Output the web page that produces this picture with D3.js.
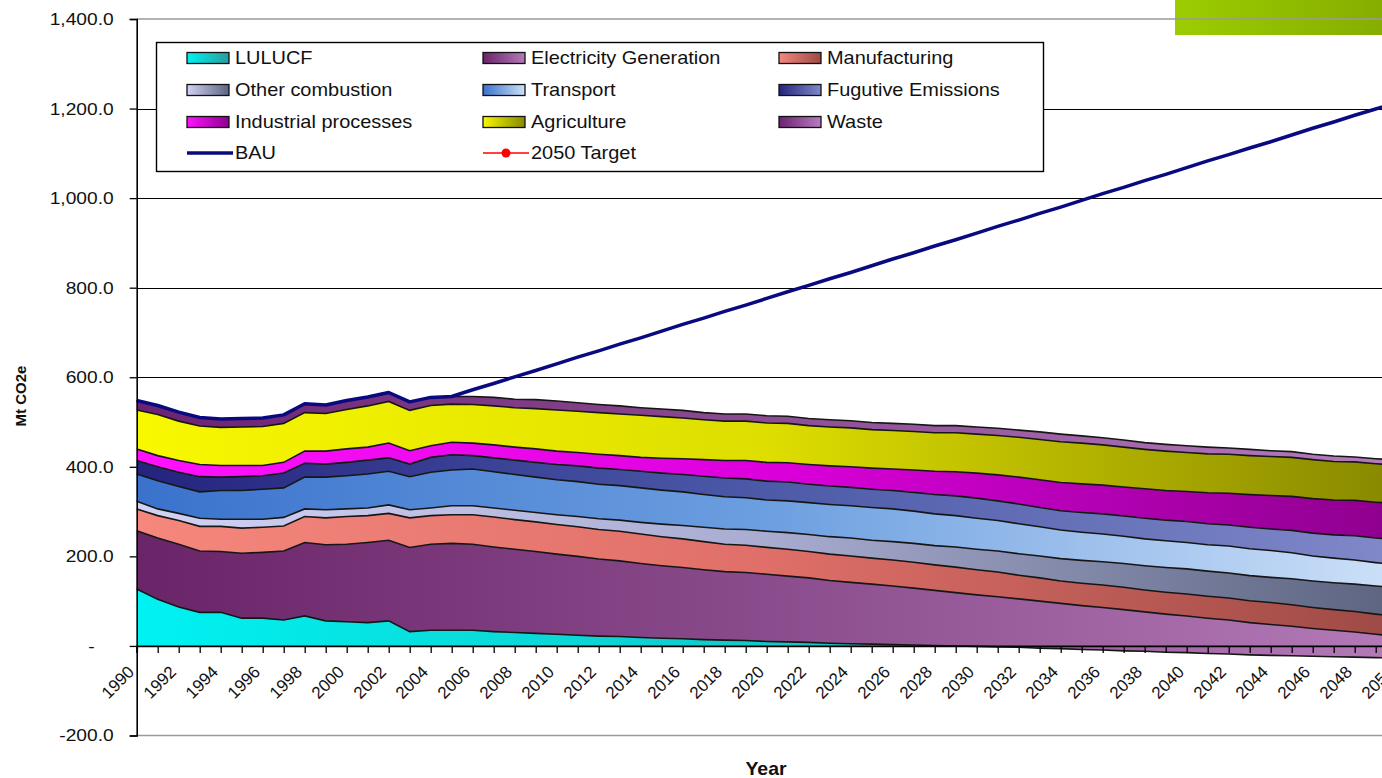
<!DOCTYPE html>
<html>
<head>
<meta charset="UTF-8">
<title>Emissions projection</title>
<script src="https://cdn.jsdelivr.net/npm/d3@7"></script>
<style>
body { margin: 0; background: #fff; }
svg { display: block; font-family: "Liberation Sans", Arial, sans-serif; }
</style>
</head>
<body>
<svg id="chart" width="1382" height="778"></svg>
<script>
// years on the x axis
var years = d3.range(1990, 2051);

// Mt CO2e per sector, 1990..2050
var lulucf = [127,104,87,75,75,62,62,58,67,56,54,52,56,32,35,35,
  35,32,30,28,26, 24,22,21,19,17, 16,14,13,12,10, 9,8,6,5,4, 3,2,1,0,-1,
  -2,-3,-5,-6,-8, -9,-11,-12,-14,-15, -17,-18,-20,-21,-22, -23,-24,-25,-26,-27];
var electricity = [130,137,140,137,136,145,147,154,164,170,173,179,180,188,192,194,
  192,189,186,183,179, 176,172,169,165,162, 159,156,153,152,150, 147,144,140,137,134,
  131,127,123,119,115, 112,108,105,101,98, 95,92,88,85,82, 79,76,72,69,66, 62,59,56,52,49];
var manufacturing = [49,50,53,55,56,56,56,56,58,60,62,60,60,66,64,64,
  66,67,66,66,66, 66,66,66,66,65, 64,63,61,61,60, 60,59,59,59,58,
  58,58,57,57,56, 55,53,52,50,50, 50,50,49,49,49, 49,49,49,49,48, 47,46,46,45,44];
var otherComb = [17,15,16,18,16,20,18,19,17,18,17,17,19,18,17,20,
  20,20,21,21,22, 23,24,25,26,28, 30,32,34,35,36, 37,38,39,40,40,
  41,42,43,45,46, 47,48,49,50,51, 52,53,54,55,56, 56,56,56,56,58, 59,60,61,63,64];
var transport = [61,63,60,59,64,64,67,66,71,73,74,76,75,74,80,80,
  82,81,80,79,78, 78,77,77,77,76, 75,73,72,71,70, 71,71,72,72,73,
  73,72,71,70,69, 68,67,65,64,63, 62,61,60,60,59, 59,60,60,60,58, 56,55,54,52,51];
var fugitive = [30,31,32,34,30,31,30,33,31,29,30,31,30,28,33,34,
  30,31,32,33,34, 35,36,36,37,38, 39,41,42,42,42, 42,41,41,41,41,
  41,42,43,44,45, 44,44,43,43,44, 45,45,46,46,47, 47,47,48,48,50, 51,52,54,55,56];
var industrial = [26,25,26,27,26,25,23,24,27,29,30,29,33,30,26,28,
  28,29,29,30,30, 30,31,31,31,33, 35,37,39,41,42, 43,44,45,46,47,
  48,50,52,54,56, 58,60,62,63,64, 64,65,66,66,67, 69,71,73,75,76, 77,78,79,80,81];
var agriculture = [87,92,88,86,85,86,87,87,86,84,88,92,93,90,90,85,
  86,87,88,90,92, 92,93,93,94,93, 91,89,88,88,88, 88,87,87,87,86,
  86,86,86,87,87, 88,89,90,91,91, 90,89,88,88,87, 87,87,87,87,87, 87,86,86,86,86];
var waste = [21,20,20,19,19,19,19,19,20,19,20,20,20,19,18,17,
  18,19,19,20,20, 19,18,18,17,17, 17,16,16,16,16, 16,16,16,16,16,
  16,16,16,16,16, 16,16,17,17,16, 16,16,15,15,15, 15,14,14,13,13, 12,12,11,11,11];
var bau = [548,537,522,510,507,508,509,516,541,538,548,556,566,545,555,557,
  572,586,601,615,630, 645,659,674,688,703, 718,732,747,761,776, 791,805,820,834,849,
  864,878,893,907,922, 937,951,966,980,995, 1010,1024,1039,1053,1068,
  1083,1097,1112,1126,1141, 1156,1170,1185,1199,1214];

var yTicks = [-200, 0, 200, 400, 600, 800, 1000, 1200, 1400];
var xLabelYears = d3.range(1990, 2051, 2);

var seriesKeys = ["lulucf","electricity","manufacturing","otherComb","transport","fugitive","industrial","agriculture","waste"];
var seriesLabels = ["LULUCF","Electricity Generation","Manufacturing","Other combustion","Transport","Fugutive Emissions","Industrial processes","Agriculture","Waste"];
var seriesValues = [lulucf, electricity, manufacturing, otherComb, transport, fugitive, industrial, agriculture, waste];

// left -> right colour ramp of each band
var ramps = {
  lulucf:        ["#00f2f2", "#12c9c9", "#2a9c9c"],
  electricity:   ["#6a2468", "#8a4c8c", "#b47ab8"],
  manufacturing: ["#f5877d", "#df6f68", "#9e4a46"],
  otherComb:     ["#d2d2f5", "#a8acd0", "#5c6480"],
  transport:     ["#3a72cc", "#6c9fe0", "#cde0f8"],
  fugitive:      ["#24247e", "#4c5aa8", "#8189c9"],
  industrial:    ["#ff12ff", "#dc00dc", "#8e008e"],
  agriculture:   ["#f8f800", "#dede00", "#888800"],
  waste:         ["#6c2272", "#8c4c92", "#b67cbe"]
};

var svg = d3.select("#chart");
var x = d3.scaleLinear().domain([1990, 2050]).range([136.7, 1396.7]);
var y = d3.scaleLinear().domain([-200, 1400]).range([735.5, 19]);

var defs = svg.append("defs");
seriesKeys.forEach(function(k) {
  var g = defs.append("linearGradient").attr("id", "g-" + k)
    .attr("gradientUnits", "userSpaceOnUse")
    .attr("x1", x(1990)).attr("x2", x(2050)).attr("y1", 0).attr("y2", 0);
  ramps[k].forEach(function(c, i) {
    g.append("stop").attr("offset", (i * 50) + "%").attr("stop-color", c);
  });
  var lg = defs.append("linearGradient").attr("id", "lg-" + k)
    .attr("x1", 0).attr("x2", 1).attr("y1", 0).attr("y2", 0);
  lg.append("stop").attr("offset", "0%").attr("stop-color", ramps[k][0]);
  lg.append("stop").attr("offset", "100%").attr("stop-color", ramps[k][2]);
});
var gg = defs.append("linearGradient").attr("id", "green").attr("x1", 0).attr("x2", 1);
gg.append("stop").attr("offset", "0%").attr("stop-color", "#9ccd00");
gg.append("stop").attr("offset", "100%").attr("stop-color", "#86ad00");

// green corner block
svg.append("rect").attr("x", 1175).attr("y", 0).attr("width", 207).attr("height", 35)
  .attr("fill", "url(#green)");

// gridlines
svg.append("g").selectAll("line")
  .data(yTicks.filter(function(v) { return v > 0 && v < 1400; }))
  .enter().append("line")
  .attr("x1", x(1990)).attr("x2", x(2050))
  .attr("y1", function(d) { return Math.round(y(d)) + 0.5; })
  .attr("y2", function(d) { return Math.round(y(d)) + 0.5; })
  .attr("stroke", "#000").attr("stroke-width", 1.2);

// plot border top / bottom
[1400, -200].forEach(function(v) {
  svg.append("line").attr("x1", x(1990)).attr("x2", x(2050))
    .attr("y1", y(v)).attr("y2", y(v))
    .attr("stroke", "#9a9a9a").attr("stroke-width", 1.6);
});

// stacked areas
var table = years.map(function(yr, i) {
  var row = { year: yr };
  seriesKeys.forEach(function(k, j) { row[k] = seriesValues[j][i]; });
  return row;
});
var stacked = d3.stack().keys(seriesKeys).offset(d3.stackOffsetNone)(table);

var area = d3.area()
  .x(function(d) { return x(d.data.year); })
  .y0(function(d) { return y(d[0]); })
  .y1(function(d) { return y(d[1]); });
var edge = d3.line()
  .x(function(d) { return x(d.data.year); })
  .y(function(d) { return y(d[1]); });

var plot = svg.append("g");
plot.selectAll("path.band").data(stacked).enter().append("path")
  .attr("class", "band")
  .attr("d", area)
  .attr("fill", function(d) { return "url(#g-" + d.key + ")"; });
plot.selectAll("path.edge").data(stacked).enter().append("path")
  .attr("class", "edge")
  .attr("d", edge)
  .attr("fill", "none").attr("stroke", "#161616").attr("stroke-width", 1.6);

// BAU line
var bauLine = d3.line().x(function(d, i) { return x(years[i]); }).y(function(d) { return y(d); });
svg.append("path").attr("d", bauLine(bau))
  .attr("fill", "none").attr("stroke", "#0a0a80").attr("stroke-width", 3.5)
  .attr("stroke-linejoin", "round");

// y axis
var fmt = d3.format(",.1f");
var yAxis = svg.append("g").attr("transform", "translate(" + x(1990) + ",0)")
  .call(d3.axisLeft(y).tickValues(yTicks).tickSize(7).tickPadding(18)
    .tickFormat(function(v) { return v === 0 ? "-" : fmt(v).replace("\u2212", "-"); }));
yAxis.select(".domain").attr("stroke", "#000").attr("stroke-width", 1.6);
yAxis.selectAll(".tick line").attr("stroke", "#000").attr("stroke-width", 1.3);
yAxis.selectAll(".tick text").attr("font-size", 17).attr("fill", "#111")
  .attr("font-family", "'Liberation Sans', Arial, sans-serif")
  .attr("x", 0)
  .attr("transform", function(d) { return "translate(" + (d === 0 ? -42 : -23) + ",0) scale(1.13,1)"; });

// x axis on the zero line
var xAxis = svg.append("g").attr("transform", "translate(0," + y(0) + ")")
  .call(d3.axisBottom(x).tickValues(years).tickSize(7)
    .tickFormat(function(d) { return xLabelYears.indexOf(d) >= 0 ? d : ""; }));
xAxis.select(".domain").attr("stroke", "#000").attr("stroke-width", 1.8);
xAxis.selectAll(".tick line").attr("stroke", "#000").attr("stroke-width", 1.3);
xAxis.selectAll(".tick text")
  .attr("font-size", 17).attr("fill", "#111")
  .attr("font-family", "'Liberation Sans', Arial, sans-serif")
  .attr("text-anchor", "end")
  .attr("x", 0).attr("y", 0).attr("dy", null)
  .attr("transform", "translate(-2,27) rotate(-45)");

// axis titles
svg.append("text").attr("transform", "translate(766,775) scale(1.08,1)").attr("text-anchor", "middle")
  .attr("font-size", 18).attr("font-weight", "bold").attr("fill", "#111").text("Year");
svg.append("text").attr("transform", "translate(26,396) rotate(-90)").attr("text-anchor", "middle")
  .attr("font-size", 15).attr("font-weight", "bold").attr("fill", "#111").text("Mt CO2e");

// legend
var legend = svg.append("g");
legend.append("rect").attr("x", 156.5).attr("y", 42.5).attr("width", 887).attr("height", 129)
  .attr("fill", "#fff").attr("stroke", "#000").attr("stroke-width", 1.4);
var colX = [187, 483, 779], rowY = [58, 90, 122, 153];
var items = seriesKeys.map(function(k, i) { return { key: k, label: seriesLabels[i], type: "area" }; });
items.push({ key: "bau", label: "BAU", type: "bau" });
items.push({ key: "target", label: "2050 Target", type: "target" });
items.forEach(function(it, i) {
  var cx = colX[i % 3], cy = rowY[Math.floor(i / 3)];
  var g = legend.append("g").attr("transform", "translate(" + cx + "," + cy + ")");
  if (it.type === "area") {
    g.append("rect").attr("x", 0).attr("y", -5.5).attr("width", 42).attr("height", 11)
      .attr("fill", "url(#lg-" + it.key + ")").attr("stroke", "#111").attr("stroke-width", 1.3);
  } else if (it.type === "bau") {
    g.append("line").attr("x1", 0).attr("x2", 46).attr("y1", 0).attr("y2", 0)
      .attr("stroke", "#0a0a80").attr("stroke-width", 3.5);
  } else {
    g.append("line").attr("x1", 0).attr("x2", 46).attr("y1", 0).attr("y2", 0)
      .attr("stroke", "#ff0000").attr("stroke-width", 1.5);
    g.append("circle").attr("cx", 23).attr("cy", 0).attr("r", 4.5).attr("fill", "#ff0000");
  }
  g.append("text").attr("transform", "translate(48,0) scale(1.14,1)").attr("dy", "0.36em")
    .attr("font-size", 17.5).attr("fill", "#111").text(it.label);
});
</script>
</body>
</html>
